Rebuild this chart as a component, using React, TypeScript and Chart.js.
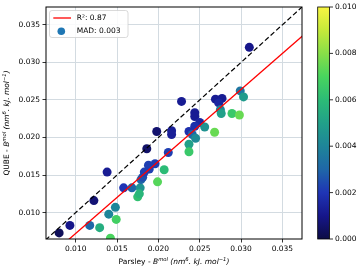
import React, { useEffect, useRef } from "react";
import { Chart, registerables } from "chart.js";

Chart.register(...registerables);

// Parsley B^mol (x), QUBE B^mol (y), MAD colour value per molecule
const parsleyB = [0.0080,0.0093,0.0117,0.0129,0.0142,0.0140,0.0148,0.0149,0.0122,0.0138,0.0158,0.0168,0.0178,0.0175,0.0177,0.0179,0.0181,0.0183,0.0189,0.0188,0.0196,0.0186,0.0212,0.0207,0.0199,0.0198,0.0216,0.0216,0.0228,0.0244,0.0244,0.0250,0.0244,0.0237,0.0241,0.0245,0.0256,0.0237,0.0237,0.0268,0.0269,0.0277,0.0273,0.0275,0.0276,0.0289,0.0298,0.0299,0.0303,0.0310];
const qubeB = [0.0073,0.0083,0.0083,0.0080,0.0066,0.0098,0.0107,0.0091,0.0116,0.0154,0.0133,0.0133,0.0133,0.0121,0.0125,0.0144,0.0147,0.0154,0.0158,0.0163,0.0165,0.0185,0.0180,0.0157,0.0141,0.0208,0.0209,0.0204,0.0248,0.0233,0.0228,0.0220,0.0215,0.0208,0.0204,0.0199,0.0214,0.0191,0.0181,0.0207,0.0251,0.0252,0.0246,0.0237,0.0232,0.0232,0.0230,0.0262,0.0254,0.0320];
const madValues = [0.0003,0.0010,0.0030,0.0055,0.0070,0.0040,0.0040,0.0068,0.0007,0.0012,0.0020,0.0030,0.0045,0.0062,0.0058,0.0030,0.0025,0.0022,0.0022,0.0022,0.0022,0.0005,0.0022,0.0060,0.0072,0.0006,0.0013,0.0013,0.0012,0.0012,0.0012,0.0015,0.0018,0.0018,0.0030,0.0042,0.0045,0.0050,0.0065,0.0075,0.0012,0.0012,0.0015,0.0040,0.0050,0.0065,0.0075,0.0035,0.0048,0.0010];

// fit line and identity line endpoints
const fitX = [0.005, 0.040];
const fitY = [0.00244, 0.03597];
const identX = [0.005, 0.040];
const identY = [0.005, 0.040];

const axisMin = 0.00641;
const axisMax = 0.03737;
const yMin = 0.00649;
const xTicks = [0.010, 0.015, 0.020, 0.025, 0.030, 0.035];
const yTicks = [0.010, 0.015, 0.020, 0.025, 0.030, 0.035];
const cbarTicks = [0.000, 0.002, 0.004, 0.006, 0.008, 0.010];
const cbarMax = 0.010;

const fitLabel = "R²: 0.87";
const madLabel = "MAD: 0.003";

const cmapStops: [number, string][] = [
  [0.0, "#0c0c45"], [0.1, "#16168a"], [0.2, "#1f35b5"], [0.3, "#1f67a8"],
  [0.4, "#1e8599"], [0.5, "#21a089"], [0.6, "#2cbb76"], [0.7, "#48d45e"],
  [0.8, "#88df48"], [0.9, "#c6ea3a"], [1.0, "#f8f542"],
];

function hexToRgb(h: string) {
  const n = parseInt(h.slice(1), 16);
  return [(n >> 16) & 255, (n >> 8) & 255, n & 255];
}
function cmap(t: number) {
  t = Math.max(0, Math.min(1, t));
  for (let i = 0; i < cmapStops.length - 1; i++) {
    const [a, ca] = cmapStops[i];
    const [b, cb] = cmapStops[i + 1];
    if (t <= b) {
      const f = (t - a) / (b - a);
      const A = hexToRgb(ca), B = hexToRgb(cb);
      const r = A.map((v, k) => Math.round(v + (B[k] - v) * f));
      return `rgb(${r[0]},${r[1]},${r[2]})`;
    }
  }
  return cmapStops[cmapStops.length - 1][1];
}

const FONT = "DejaVu Sans";
const FS = 7.5;

type Seg = { t: string; i?: boolean; s?: boolean };
const xTitle: Seg[] = [
  { t: "Parsley - " }, { t: "B", i: true }, { t: "mol", i: true, s: true },
  { t: " (nm", i: true }, { t: "6", i: true, s: true }, { t: ". kJ. mol", i: true },
  { t: "−1", i: true, s: true }, { t: ")", i: true },
];
const yTitle: Seg[] = [
  { t: "QUBE - " }, { t: "B", i: true }, { t: "mol", i: true, s: true },
  { t: " (nm", i: true }, { t: "6", i: true, s: true }, { t: ". kJ. mol", i: true },
  { t: "−1", i: true, s: true }, { t: ")", i: true },
];

function segFont(s: Seg) {
  return `${s.i ? "italic " : ""}${s.s ? FS * 0.7 : FS}px "${FONT}"`;
}
function drawRich(ctx: CanvasRenderingContext2D, segs: Seg[], cx: number, cy: number, rot: number) {
  ctx.save();
  ctx.translate(cx, cy);
  ctx.rotate(rot);
  let total = 0;
  for (const s of segs) { ctx.font = segFont(s); total += ctx.measureText(s.t).width; }
  let x = -total / 2;
  ctx.fillStyle = "#000";
  ctx.textBaseline = "middle";
  ctx.textAlign = "left";
  for (const s of segs) {
    ctx.font = segFont(s);
    ctx.fillText(s.t, x, s.s ? -FS * 0.4 : 0);
    x += ctx.measureText(s.t).width;
  }
  ctx.restore();
}

const decorPlugin = {
  id: "decor",
  afterDraw(chart: any) {
    const ctx: CanvasRenderingContext2D = chart.ctx;
    const { left, right, top, bottom } = chart.chartArea;
    ctx.save();
    // frame
    ctx.strokeStyle = "#000";
    ctx.lineWidth = 1;
    ctx.strokeRect(left, top, right - left, bottom - top);

    // legend
    const lx = left + 3.5, ly = top + 3.5, lw = 78.5, lh = 27;
    ctx.beginPath();
    ctx.roundRect(lx, ly, lw, lh, 2.5);
    ctx.fillStyle = "rgba(255,255,255,0.85)";
    ctx.fill();
    ctx.strokeStyle = "#d0d0d0";
    ctx.lineWidth = 0.8;
    ctx.stroke();
    ctx.strokeStyle = "red";
    ctx.lineWidth = 1.3;
    ctx.beginPath();
    ctx.moveTo(lx + 3.8, ly + 7.5);
    ctx.lineTo(lx + 21.5, ly + 7.5);
    ctx.stroke();
    ctx.fillStyle = "#1f77b4";
    ctx.beginPath();
    ctx.arc(lx + 11.8, ly + 20.8, 3.8, 0, Math.PI * 2);
    ctx.fill();
    ctx.fillStyle = "#000";
    ctx.font = `${FS}px "${FONT}"`;
    ctx.textBaseline = "middle";
    ctx.textAlign = "left";
    ctx.fillText(fitLabel, lx + 27.2, ly + 7.5);
    ctx.fillText(madLabel, lx + 27.2, ly + 20.8);

    // colorbar
    const cx0 = right + 15.7, cw = 11.8;
    const grad = ctx.createLinearGradient(0, bottom, 0, top);
    for (const [p, c] of cmapStops) grad.addColorStop(p, c);
    ctx.fillStyle = grad;
    ctx.fillRect(cx0, top, cw, bottom - top);
    ctx.strokeStyle = "#000";
    ctx.lineWidth = 0.8;
    ctx.strokeRect(cx0, top, cw, bottom - top);
    ctx.fillStyle = "#000";
    for (const v of cbarTicks) {
      const y = bottom - (v / cbarMax) * (bottom - top);
      ctx.beginPath();
      ctx.moveTo(cx0 + cw, y);
      ctx.lineTo(cx0 + cw + 3.5, y);
      ctx.stroke();
      ctx.fillText(v.toFixed(3), cx0 + cw + 5.5, y);
    }

    // axis titles
    drawRich(ctx, xTitle, (left + right) / 2, 262.5, 0);
    drawRich(ctx, yTitle, 7.5, (top + bottom) / 2, -Math.PI / 2);
    ctx.restore();
  },
};

export default function App() {
  const ref = useRef<HTMLCanvasElement | null>(null);
  useEffect(() => {
    if (!ref.current) return;
    const gridColor = "#d3dbe1";
    const chart = new Chart(ref.current, {
      type: "scatter",
      data: {
        datasets: [
          {
            type: "line",
            label: fitLabel,
            data: fitX.map((x, i) => ({ x, y: fitY[i] })),
            borderColor: "red",
            borderWidth: 1.3,
            pointRadius: 0,
            order: 0,
          } as any,
          {
            type: "line",
            label: "identity",
            data: identX.map((x, i) => ({ x, y: identY[i] })),
            borderColor: "#000",
            borderWidth: 1.2,
            borderDash: [5, 2.6],
            pointRadius: 0,
            order: 0,
          } as any,
          {
            type: "scatter",
            label: madLabel,
            data: parsleyB.map((x, i) => ({ x, y: qubeB[i] })),
            backgroundColor: madValues.map((c) => cmap(c / cbarMax)),
            borderWidth: 0,
            pointRadius: 4.5,
            order: 2,
          } as any,
        ],
      },
      options: {
        animation: false,
        responsive: false,
        layout: { padding: { left: 0, top: 4, right: 58, bottom: 0 } },
        plugins: { legend: { display: false }, tooltip: { enabled: false } },
        scales: {
          x: {
            type: "linear",
            min: axisMin,
            max: axisMax,
            afterBuildTicks: (s: any) => { s.ticks = xTicks.map((v) => ({ value: v })); },
            afterFit: (s: any) => { s.height = 30; },
            ticks: { color: "#000", font: { family: FONT, size: FS }, padding: 2, maxRotation: 0, callback: (v: any) => Number(v).toFixed(3) },
            grid: { color: gridColor, lineWidth: 1, tickColor: "#000", tickLength: 3.5, tickWidth: 0.8 } as any,
            border: { display: false },
          },
          y: {
            type: "linear",
            min: yMin,
            max: axisMax,
            afterBuildTicks: (s: any) => { s.ticks = yTicks.map((v) => ({ value: v })); },
            afterFit: (s: any) => { s.width = 46; },
            ticks: { color: "#000", font: { family: FONT, size: FS }, padding: 2.5, callback: (v: any) => Number(v).toFixed(3) },
            grid: { color: gridColor, lineWidth: 1, tickColor: "#000", tickLength: 3.5, tickWidth: 0.8 } as any,
            border: { display: false },
          },
        },
      },
      plugins: [decorPlugin],
    });
    return () => chart.destroy();
  }, []);
  return (
    <div style={{ position: "absolute", left: 0, top: 0, width: 360, height: 269, background: "#fff" }}>
      <canvas ref={ref} width={360} height={269} />
    </div>
  );
}
